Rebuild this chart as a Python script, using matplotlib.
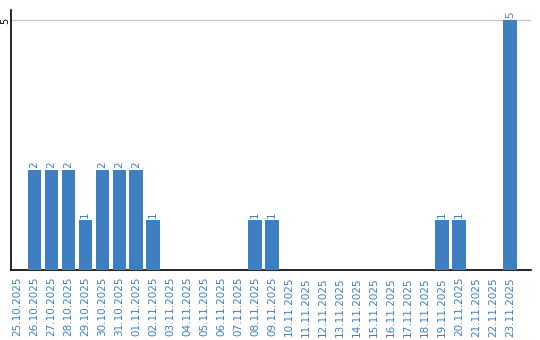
import matplotlib
matplotlib.use("Agg")
import matplotlib.pyplot as plt

dates = ["25.10.2025", "26.10.2025", "27.10.2025", "28.10.2025", "29.10.2025",
         "30.10.2025", "31.10.2025", "01.11.2025", "02.11.2025", "03.11.2025",
         "04.11.2025", "05.11.2025", "06.11.2025", "07.11.2025", "08.11.2025",
         "09.11.2025", "10.11.2025", "11.11.2025", "12.11.2025", "13.11.2025",
         "14.11.2025", "15.11.2025", "16.11.2025", "17.11.2025", "18.11.2025",
         "19.11.2025", "20.11.2025", "21.11.2025", "22.11.2025", "23.11.2025"]
values = [0, 2, 2, 2, 1, 2, 2, 2, 1, 0,
          0, 0, 0, 0, 1, 1, 0, 0, 0, 0,
          0, 0, 0, 0, 0, 1, 1, 0, 0, 5]
yticks = [5]

bar_color = "#3D7FC1"
text_color = "#3D7FC1"

fig = plt.figure(figsize=(5.4, 3.4), dpi=100)
ax = fig.add_axes([11/540, 70/340, 520/540, 260/340])

x = list(range(len(dates)))
ax.bar(x, values, width=0.79, color=bar_color, zorder=3)

for xi, v in zip(x, values):
    if v > 0:
        ax.annotate(str(v), (xi, v), xytext=(0, 1.5), textcoords="offset points",
                    rotation=90, ha="center", va="bottom", color=text_color,
                    fontsize=7.5)

ax.set_xlim(-0.37, 30.24)
ax.set_ylim(0, 5.21)
ax.set_xticks(x)
ax.set_xticklabels(dates, rotation=90, color=text_color, fontsize=7.5)
ax.set_yticks(yticks)
ax.set_yticklabels([str(t) for t in yticks], rotation=90, fontsize=7,
                   va="center", color="black")
ax.tick_params(axis="both", length=0)
ax.tick_params(axis="x", pad=5)
ax.tick_params(axis="y", pad=0.5)
ax.grid(axis="y", color="#C8C8C8", linewidth=1, zorder=0)
ax.spines["top"].set_visible(False)
ax.spines["right"].set_visible(False)
ax.spines["left"].set_color("black")
ax.spines["bottom"].set_color("black")
ax.spines["left"].set_linewidth(1.2)
ax.spines["bottom"].set_linewidth(1.2)

fig.savefig("out.png", dpi=100)
